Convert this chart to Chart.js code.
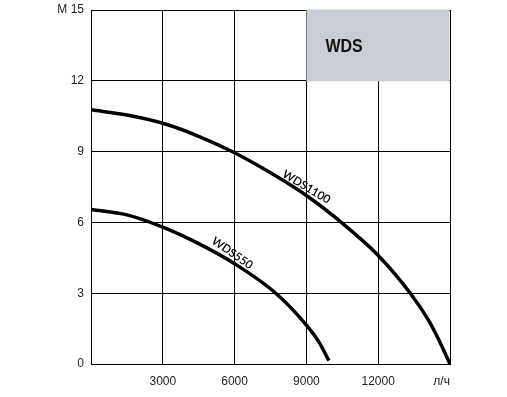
<!DOCTYPE html>
<html>
<head>
<meta charset="utf-8">
<script src="https://cdn.jsdelivr.net/npm/chart.js@4/dist/chart.umd.min.js"></script>
<style>
  html, body { margin: 0; padding: 0; background: #fff; }
  #wrap { width: 507px; height: 397px; position: relative; }
</style>
</head>
<body>
<div id="wrap"><canvas id="pumpChart" width="507" height="397"></canvas></div>
<script>
/* DATA: flow (л/ч) vs head (м) */
const flow1100 = [0, 1500, 3000, 4500, 6000, 7500, 9000, 10400, 12000, 13340, 14100, 14520, 15000];
const head1100 = [10.77, 10.55, 10.2, 9.65, 8.95, 8.1, 7.14, 6.05, 4.6, 3.0, 1.86, 1.05, 0];
const flow550 = [0, 1500, 3000, 4500, 6000, 7720, 9000, 9520, 9940];
const head550 = [6.55, 6.32, 5.8, 5.1, 4.25, 3.0, 1.65, 0.94, 0.14];
const seriesNames = ["WDS1100", "WDS550"];
const xTicks = ["", "3000", "6000", "9000", "12000", "л/ч     "];
const yTicks = ["0", "3", "6", "9", "12", "M 15"];
const boxTitle = "WDS";

const toPoints = (xs, ys) => xs.map((x, i) => ({ x, y: ys[i] }));

/* gray title box in the top right cell block */
const titleBox = {
  id: "titleBox",
  beforeDatasetsDraw(c) {
    const { ctx, scales: { x, y } } = c;
    const x0 = x.getPixelForValue(9000), x1 = x.getPixelForValue(15000);
    const y0 = y.getPixelForValue(15), y1 = y.getPixelForValue(12);
    ctx.save();
    ctx.fillStyle = "#cbcdd6";
    ctx.fillRect(x0, y0 - 0.5, x1 - x0 - 0.5, y1 - y0 + 1);
    ctx.fillStyle = "#111";
    ctx.font = 'bold 19px "Liberation Sans", Arial';
    ctx.textBaseline = "middle";
    ctx.translate(x0 + 19, (y0 + y1) / 2 + 1);
    ctx.scale(0.84, 1);
    ctx.fillText(boxTitle, 0, 0);
    ctx.restore();
  }
};

/* rotated curve names */
const curveLabels = {
  id: "curveLabels",
  afterDatasetsDraw(c, args, opts) {
    const { ctx, scales: { x, y } } = c;
    ctx.save();
    ctx.fillStyle = "#000";
    ctx.font = '600 11.5px Lato, "Open Sans", sans-serif';
    ctx.textAlign = "center";
    ctx.textBaseline = "middle";
    opts.items.forEach(it => {
      ctx.save();
      ctx.translate(x.getPixelForValue(it.at[0]), y.getPixelForValue(it.at[1]));
      ctx.rotate(it.angle * Math.PI / 180);
      ctx.fillText(it.text, 0, 0);
      ctx.restore();
    });
    ctx.restore();
  }
};

const lineStyle = {
  borderColor: "#000",
  borderWidth: 3.5,
  pointRadius: 0,
  fill: false,
  cubicInterpolationMode: "monotone",
  borderCapStyle: "butt"
};

new Chart(document.getElementById("pumpChart"), {
  type: "line",
  data: {
    datasets: [
      { label: seriesNames[0], data: toPoints(flow1100, head1100), ...lineStyle },
      { label: seriesNames[1], data: toPoints(flow550, head550), ...lineStyle }
    ]
  },
  options: {
    responsive: false,
    animation: false,
    layout: { padding: { top: 10, right: 57, left: 0, bottom: 0 } },
    plugins: {
      legend: { display: false },
      tooltip: { enabled: false },
      curveLabels: {
        items: [
          { text: seriesNames[0], at: [9000, 7.5], angle: 31 },
          { text: seriesNames[1], at: [5900, 4.7], angle: 35 }
        ]
      }
    },
    scales: {
      x: {
        type: "linear",
        min: 0, max: 15000,
        afterFit: s => { s.height = 33; s.paddingLeft = 0; s.paddingRight = 0; },
        grid: { color: "#000", lineWidth: 1, drawTicks: false },
        border: { color: "#000", width: 1 },
        ticks: {
          stepSize: 3000,
          padding: 10,
          color: "#222",
          font: { family: '"Liberation Sans", Arial', size: 12 },
          maxRotation: 0,
          callback: (v) => xTicks[Math.round(v / 3000)]
        }
      },
      y: {
        min: 0, max: 15,
        afterFit: s => { s.width = 91; s.paddingTop = 0; s.paddingBottom = 0; },
        grid: { color: "#000", lineWidth: 1, drawTicks: false },
        border: { color: "#000", width: 1 },
        ticks: {
          stepSize: 3,
          padding: 7,
          color: "#222",
          font: { family: '"Liberation Sans", Arial', size: 12 },
          callback: (v) => yTicks[Math.round(v / 3)]
        }
      }
    }
  },
  plugins: [titleBox, curveLabels]
});
</script>
</body>
</html>
